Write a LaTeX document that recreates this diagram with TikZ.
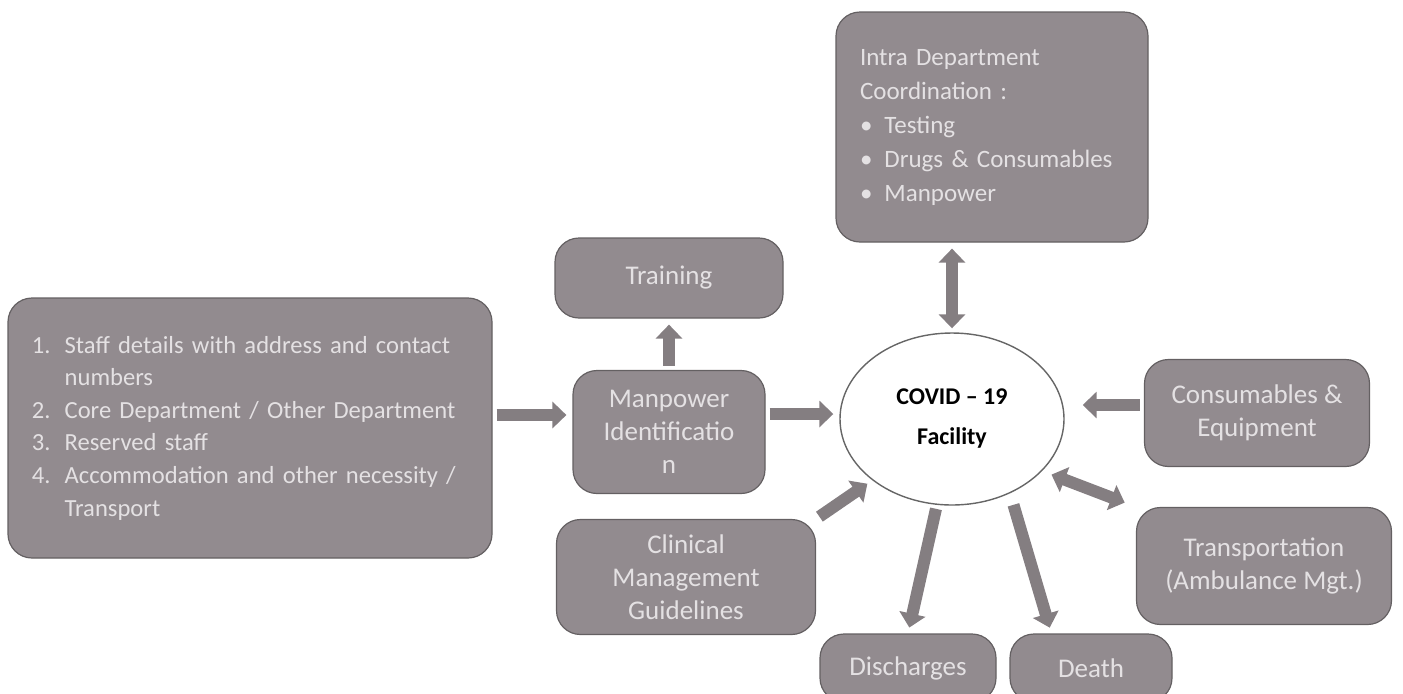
\documentclass[tikz,border=0pt]{standalone}
\usepackage{fontspec}
\setmainfont{Carlito}
\usetikzlibrary{arrows.meta,positioning,shapes.geometric}
\definecolor{boxgray}{RGB}{146,139,143}
\definecolor{boxedge}{RGB}{100,96,98}
\definecolor{boxtext}{RGB}{228,225,227}
\definecolor{arrowgray}{RGB}{132,126,129}

\tikzset{
  infobox/.style={draw=boxedge, line width=0.6pt, fill=boxgray, rounded corners=12pt,
    text=boxtext, align=center, inner sep=4pt, font=\fontsize{13.5}{16.5}\selectfont},
  blockarrow/.style={draw=arrowgray, line width=6pt, -{Triangle[length=7pt,width=13pt]},
    shorten <=2pt, shorten >=3pt},
  twoway/.style={blockarrow, {Triangle[length=7pt,width=13pt]}-{Triangle[length=7pt,width=13pt]}}
}

\begin{document}
\begin{tikzpicture}[x=0.5pt, y=-0.5pt]
\useasboundingbox (0,0) rectangle (1403,693);

% Central facility
\node[ellipse, draw=black!60, line width=0.7pt, fill=white, minimum width=112pt, minimum height=86pt,
  align=center, font=\bfseries\fontsize{12}{20}\selectfont] (cf) at (952,419) {COVID -- 19\\Facility};

% Boxes round it
\node[infobox, minimum width=242pt, minimum height=130pt, text width=218pt, align=left,
  font=\fontsize{12.3}{16.3}\selectfont] (staff) at (250,428)
  {\begin{tabular}{@{}l@{\hspace{7pt}}l@{}}
  1.&Staff details with address and contact\\
    &numbers\\
  2.&Core Department / Other Department\\
  3.&Reserved staff\\
  4.&Accommodation and other necessity /\\
    &Transport
  \end{tabular}};
\node[infobox, minimum width=114pt, minimum height=40pt] (training) at (669,278) {Training};
\node[infobox, minimum width=96pt, minimum height=61.5pt] (manpower) at (669,432) {Manpower\\Identificatio\\n};
\node[infobox, minimum width=156pt, minimum height=115pt, text width=132pt, align=left, inner xsep=12pt,
  font=\fontsize{12.5}{17}\selectfont] (intra) at (992,127)
  {Intra Department\\Coordination :\\
  \textbullet\hspace{6pt}Testing\\
  \textbullet\hspace{6pt}Drugs \& Consumables\\
  \textbullet\hspace{6pt}Manpower};
\node[infobox, minimum width=112.5pt, minimum height=53.5pt] (cons) at (1257,413) {Consumables \&\\Equipment};
\node[infobox, minimum width=127.5pt, minimum height=58.5pt] (trans) at (1264,566) {Transportation\\(Ambulance Mgt.)};
\node[infobox, minimum width=129.5pt, minimum height=57.5pt] (clin) at (686,577) {Clinical\\Management\\Guidelines};
\node[infobox, minimum width=88pt, minimum height=34pt] (disch) at (908,668) {Discharges};
\node[infobox, minimum width=81pt, minimum height=34pt] (death) at (1091,668) {Death};

% Block arrows between them
\draw[blockarrow] ([yshift=6.5pt]staff.east) -- ([yshift=6.5pt]staff.east -| manpower.west);
\draw[blockarrow] ([yshift=9pt]manpower.east) -- ([yshift=9pt]manpower.east -| cf.west);
\draw[blockarrow, shorten >=9pt] ([yshift=4pt]cons.west) -- ([yshift=4pt]cons.west -| cf.east);
\foreach \a/\b in {manpower/training, clin.north east/cf.south west, cf.-100/disch.north} {
  \draw[blockarrow] (\a) -- (\b);
}
\draw[blockarrow, shorten <=6pt] (cf.-52) -- ([xshift=21pt]death.north west);

% Two-way arrows
\draw[twoway] (cf.north) -- (cf.north |- intra.south);
\draw[twoway, shorten <=5pt, shorten >=6pt] (cf.-30) -- (trans.north west);

\end{tikzpicture}
\end{document}
